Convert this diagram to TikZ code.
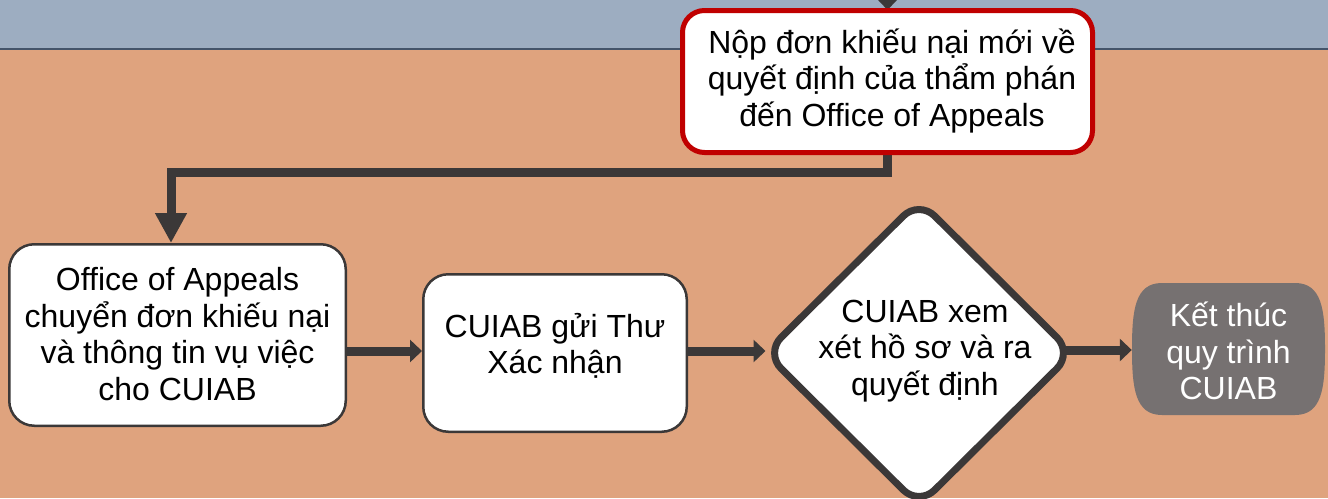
\documentclass[tikz,border=0pt]{standalone}
\usepackage{fontspec}
\setmainfont{Liberation Sans}
\usetikzlibrary{arrows.meta,shapes.geometric}
\definecolor{bgorange}{HTML}{DFA37E}
\definecolor{band}{HTML}{9DADC1}
\definecolor{bandline}{HTML}{44546A}
\definecolor{dark}{HTML}{3B3838}
\definecolor{redb}{HTML}{C00000}
\definecolor{endgray}{HTML}{767171}
\pgfdeclarelayer{bglayer}
\pgfdeclarelayer{connlayer}
\pgfsetlayers{bglayer,connlayer,main}
\begin{document}
\begin{tikzpicture}[x=1pt,y=-1pt,
  txt/.style={font=\fontsize{32pt}{36.5pt}\selectfont, align=center, inner sep=0pt},
  box/.style={rectangle, draw=dark, line width=2.5pt, fill=white, rounded corners=25pt, inner sep=0pt},
  conn/.style={draw=dark, line width=9pt},
  bighead/.style={-{Triangle[length=30pt,width=30pt]}},
  smallhead/.style={-{Triangle[length=12pt,width=22pt]}}]
\useasboundingbox (0,0) rectangle (1328,498);
\clip (0,0) rectangle (1328,498);
\begin{pgfonlayer}{bglayer}
  \fill[bgorange] (0,0) rectangle (1328,498);
  \fill[band] (0,0) rectangle (1328,48);
  \draw[bandline, line width=2.5pt] (0,49) -- (1328,49);
\end{pgfonlayer}

% nodes
\node[box, draw=redb, line width=5pt, rounded corners=22pt, minimum width=410pt, minimum height=142pt] (red) at (887.5,81.5) {};
\node[txt] (redtxt) at (892,81) {Nộp đơn khiếu nại mới về\\quyết định của thẩm phán\\đến Office of Appeals};

\node[box, minimum width=336.5pt, minimum height=181.5pt] (left) at (177.5,335) {};
\node[txt] (lefttxt) at (177.5,334) {Office of Appeals\\chuyển đơn khiếu nại\\và thông tin vụ việc\\cho CUIAB};

\node[box, minimum width=263.5pt, minimum height=157.5pt] (mid) at (555,353) {};
\node[txt] (midtxt) at (555,346) {CUIAB gửi Thư\\Xác nhận};

\node[diamond, draw=dark, line width=7pt, fill=white, rounded corners=22pt, minimum width=310pt, minimum height=308pt, inner sep=0pt] (dia) at (919,353) {};
\node[txt] (diatxt) at (925,351) {CUIAB xem\\xét hồ sơ và ra\\quyết định};

% terminator
\node[rectangle, minimum width=193pt, minimum height=132pt, inner sep=0pt] (end) at (1228.5,349) {};
\fill[endgray] (1162,283) -- (1295,283)
  .. controls (1322,283) and (1325,310) .. (1325,349)
  .. controls (1325,388) and (1322,415) .. (1295,415)
  -- (1162,415)
  .. controls (1135,415) and (1132,388) .. (1132,349)
  .. controls (1132,310) and (1135,283) .. (1162,283) -- cycle;
\node[txt, text=white] (endtxt) at (1228.5,351) {Kết thúc\\quy trình\\CUIAB};

\coordinate (topin) at (887.5,-40);
\coordinate (bend) at (171,172);

\begin{pgfonlayer}{connlayer}
  \draw[conn, smallhead] (topin) -- ([yshift=-2pt]red.north);
  \draw[conn, bighead] (red.south) |- (bend) -- (bend |- left.north);
  \draw[conn, smallhead] (left.east |- 0,351) -- (mid.west |- 0,351);
  \draw[conn, smallhead] (mid.east |- 0,351) -- ([xshift=5pt]dia.west |- 0,351);
  \draw[conn, smallhead] ([xshift=-20pt]dia.east |- 0,350) -- (end.west |- 0,350);
\end{pgfonlayer}
\end{tikzpicture}
\end{document}
